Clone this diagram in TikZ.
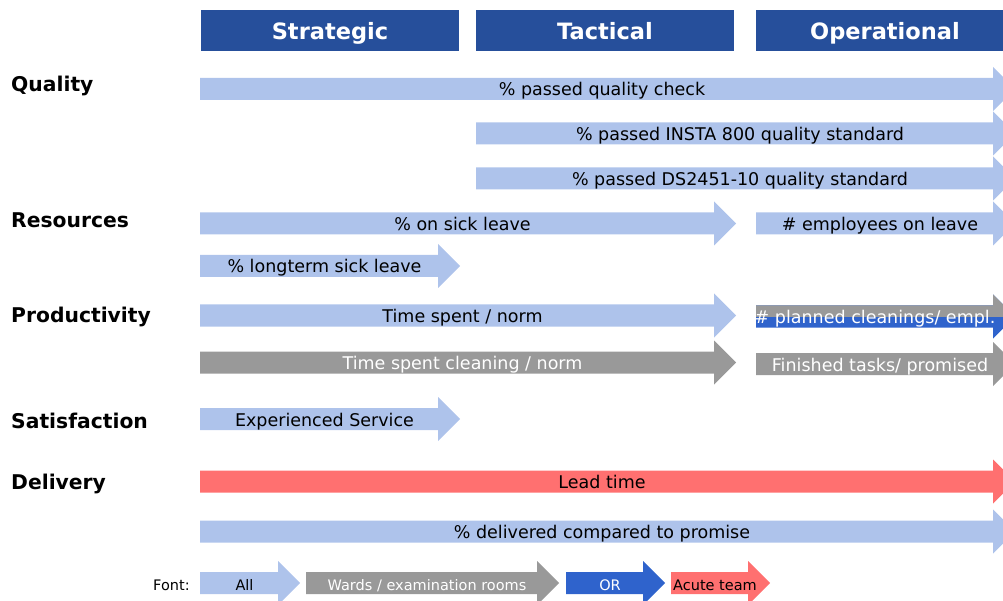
\documentclass[tikz,border=0pt]{standalone}
\usepackage{fontspec}
\setmainfont{DejaVu Sans}
\usetikzlibrary{positioning}

\definecolor{lightblue}{RGB}{174,195,235}
\definecolor{darkblue}{RGB}{38,79,155}
\definecolor{orblue}{RGB}{47,99,204}
\definecolor{wardgray}{RGB}{153,153,153}
\definecolor{acutered}{RGB}{255,112,112}

% arrow shape: colour, start x, head x, centre y
\newcommand{\arrowshape}[4]{%
    \fill[#1] (#2, #4-11) -- (#3, #4-11) -- (#3, #4-22) -- (#3+22, #4)
        -- (#3, #4+22) -- (#3, #4+11) -- (#2, #4+11) -- cycle;
}
% arrow with label: name, start x, head x, centre y, colour, text style, text
\newcommand{\kpiarrow}[7]{%
    \arrowshape{#5}{#2}{#3}{#4}
    \node[kpi, #6] (#1) at ({(#2+#3+11)/2}, #4) {#7};
}

\begin{document}
\begin{tikzpicture}[x=1pt, y=-1pt,
    kpi/.style={inner sep=0pt, text height=14pt, text depth=0pt, font=\fontsize{17.5}{20}\selectfont},
    legend/.style={inner sep=0pt, text height=14pt, text depth=0pt, font=\fontsize{14.5}{17}\selectfont},
    header/.style={fill=darkblue, text=white, minimum width=258, minimum height=41, inner sep=0pt,
        text height=19pt, text depth=0pt, font=\fontsize{22.5}{26}\selectfont\bfseries},
    rowlabel/.style={anchor=west, inner sep=0pt, text height=16pt, text depth=0pt,
        font=\fontsize{20.3}{24}\selectfont\bfseries}]

    \useasboundingbox (0, 0) rectangle (1003, 601);
    \clip (0, 0) rectangle (1003, 601);

    % columns
    \node[header] (strategic) at (330, 30.5) {Strategic};
    \node[header] (tactical) at (605, 30.5) {Tactical};
    \node[header] (operational) at (885, 30.5) {Operational};

    % rows
    \node[rowlabel] (quality) at (11, 84) {Quality};
    \node[rowlabel] (resources) at (11, 220) {Resources};
    \node[rowlabel] (productivity) at (11, 315) {Productivity};
    \node[rowlabel] (satisfaction) at (11, 420) {Satisfaction};
    \node[rowlabel] (delivery) at (11, 481) {Delivery};

    % quality
    \kpiarrow{checkall}{200}{993}{89}{lightblue}{}{\% passed quality check}
    \kpiarrow{insta}{476}{993}{133.5}{lightblue}{}{\% passed INSTA 800 quality standard}
    \kpiarrow{ds}{476}{993}{178.5}{lightblue}{}{\% passed DS2451-10 quality standard}

    % resources
    \kpiarrow{sick}{200}{714}{223.5}{lightblue}{}{\% on sick leave}
    \kpiarrow{onleave}{756}{993}{223.5}{lightblue}{}{\# employees on leave}
    \kpiarrow{longterm}{200}{438}{266}{lightblue}{}{\% longterm sick leave}

    % productivity
    \kpiarrow{timenorm}{200}{714}{315.5}{lightblue}{}{Time spent / norm}
    \arrowshape{orblue}{756}{993}{316.5}
    \begin{scope}
        \clip (700, 280) rectangle (1003, 316.5);
        \arrowshape{wardgray}{756}{993}{316.5}
    \end{scope}
    \node[kpi, text=white] (planned) at (875, 316.5) {\# planned cleanings/ empl.};
    \kpiarrow{cleaning}{200}{714}{362.5}{wardgray}{text=white}{Time spent cleaning / norm}
    \kpiarrow{finished}{756}{993}{364}{wardgray}{text=white}{Finished tasks/ promised}

    % satisfaction
    \kpiarrow{service}{200}{438}{419}{lightblue}{}{Experienced Service}

    % delivery
    \kpiarrow{leadtime}{200}{993}{481.5}{acutered}{}{Lead time}
    \kpiarrow{promise}{200}{993}{531.5}{lightblue}{}{\% delivered compared to promise}

    % legend
    \node[legend, anchor=west] (font) at (153, 583) {Font:};
    \kpiarrow{all}{200}{278}{583}{lightblue}{legend}{All}
    \kpiarrow{wards}{306}{537}{583}{wardgray}{legend, text=white}{Wards / examination rooms}
    \kpiarrow{or}{566}{643}{583}{orblue}{legend, text=white}{OR}
    \kpiarrow{acute}{671}{748}{583}{acutered}{legend}{Acute team}
\end{tikzpicture}
\end{document}
